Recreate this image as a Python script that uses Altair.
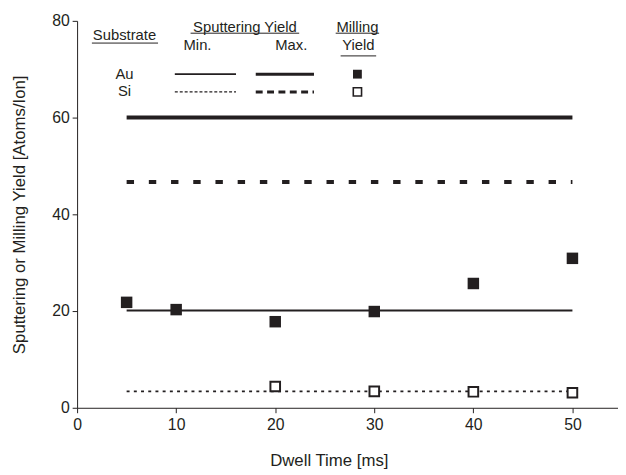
import altair as alt
import pandas as pd

# ---- data ----
dwell_au = [5, 10, 20, 30, 40, 50]
milling_au = [21.8, 20.3, 17.8, 19.9, 25.7, 30.9]
dwell_si = [20, 30, 40, 50]
milling_si = [4.4, 3.4, 3.3, 3.1]
substrates = ["Au", "Si"]
sputter_min = [20.1, 3.4]
sputter_max = [60.0, 46.7]
line_start = [5, 5]
line_end = [50, 50]
x_ticks = [0, 10, 20, 30, 40, 50]
y_ticks = [0, 20, 40, 60, 80]

INK = "#231f20"
FONT = "Liberation Sans"

xs = alt.Scale(domain=[0, 54.6], nice=False, zero=False)
ys = alt.Scale(domain=[0, 80], nice=False)

x_axis = alt.Axis(values=x_ticks, title="Dwell Time [ms]", grid=False, tickSize=5,
                  labelFlush=False, labelPadding=4, titleX=255, titleY=53,
                  titleBaseline="middle", titleAlign="center")
y_axis = alt.Axis(values=y_ticks, title="Sputtering or Milling Yield [Atoms/Ion]", grid=False,
                  tickSize=5, labelFlush=False, labelPadding=3, titleX=-58, titleY=196,
                  titleBaseline="middle", titleAlign="center", titleAngle=270)

pts_au = pd.DataFrame({"t": dwell_au, "v": milling_au})
pts_si = pd.DataFrame({"t": dwell_si, "v": milling_si})
lines = pd.DataFrame({"sub": substrates, "mn": sputter_min, "mx": sputter_max,
                      "t": line_start, "t2": line_end})


def sputter_rule(field, sub, width, dash=None):
    mk = dict(color=INK, strokeWidth=width)
    if dash:
        mk["strokeDash"] = dash
    return (alt.Chart(lines).transform_filter(alt.datum.sub == sub)
            .mark_rule(**mk)
            .encode(x=alt.X("t:Q", scale=xs, axis=x_axis), x2="t2:Q",
                    y=alt.Y(f"{field}:Q", scale=ys, axis=y_axis)))


au_min = sputter_rule("mn", "Au", 2.0)
au_max = sputter_rule("mx", "Au", 4.0)
si_min = sputter_rule("mn", "Si", 1.6, [3, 4.3])
si_max = sputter_rule("mx", "Si", 4.0, [7.5, 15])

au_pts = alt.Chart(pts_au).mark_point(shape="square", filled=True, size=135, color=INK,
                                      opacity=1).encode(
    x=alt.X("t:Q", scale=xs, axis=x_axis), y=alt.Y("v:Q", scale=ys, axis=y_axis))
si_pts = alt.Chart(pts_si).mark_point(shape="square", filled=True, fill="white", stroke=INK,
                                      strokeWidth=2, size=95, opacity=1).encode(
    x=alt.X("t:Q", scale=xs, axis=x_axis), y=alt.Y("v:Q", scale=ys, axis=y_axis))

# ---- hand-drawn legend (pixel positions inside the plot area) ----
one = pd.DataFrame({"k": [0]})


def label(txt, x, y):
    return alt.Chart(pd.DataFrame({"s": [txt]})).mark_text(
        font=FONT, fontSize=15, color=INK, align="center", baseline="middle").encode(
        x=alt.value(x), y=alt.value(y), text="s:N")


def hline(x1, x2, y, width=1.0, dash=None):
    mk = dict(color=INK, strokeWidth=width)
    if dash:
        mk["strokeDash"] = dash
    return alt.Chart(one).mark_rule(**mk).encode(
        x=alt.value(x1), x2=alt.value(x2), y=alt.value(y))


def sq(x, y, filled):
    if filled:
        mk = dict(shape="square", filled=True, size=80, color=INK, opacity=1)
    else:
        mk = dict(shape="square", filled=True, fill="white", stroke=INK, strokeWidth=1.6,
                  size=70, opacity=1)
    return alt.Chart(one).mark_point(**mk).encode(x=alt.value(x), y=alt.value(y))


legend = [
    label("Substrate", 48, 14), hline(15, 82, 22.5),
    label("Sputtering Yield", 170, 6), hline(115, 225, 12.5),
    label("Milling", 284, 6), hline(262, 306, 12.5),
    label("Min.", 122, 25), label("Max.", 217, 25),
    label("Yield", 285, 25), hline(267, 303, 35.5),
    label("Au", 48, 54), label("Si", 48, 71.5),
    hline(99, 161, 54, 1.6), hline(181, 240, 54, 3.0),
    hline(99, 161, 72, 1.4, [3, 2]), hline(181, 240, 72, 3.0, [7, 4.5]),
    sq(284, 54, True), sq(284, 72, False),
]

chart = alt.layer(au_min, au_max, si_min, si_max, au_pts, si_pts, *legend).properties(
    width=548, height=392,
    autosize=alt.AutoSizeParams(type="none"),
    padding={"left": 70, "top": 10, "right": 0, "bottom": 60},
).configure_view(stroke=None).configure_axis(
    domainColor=INK, tickColor=INK, labelColor=INK, titleColor=INK,
    labelFont=FONT, titleFont=FONT, labelFontSize=16, titleFontSize=17,
    titleFontWeight="normal", domainWidth=1, tickWidth=1,
)

chart.save("out.html", embed_options={"renderer": "svg", "actions": False})
